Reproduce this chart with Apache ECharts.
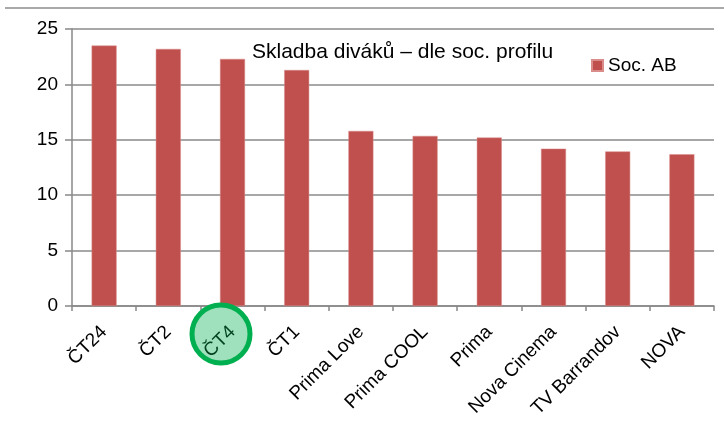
<!DOCTYPE html>
<html>
<head>
<meta charset="utf-8">
<script src="https://cdn.jsdelivr.net/npm/echarts@6/dist/echarts.min.js"></script>
<style>
  html, body { margin: 0; padding: 0; background: #fff; }
  #chart { width: 724px; height: 431px; }
</style>
</head>
<body>
<div id="chart"></div>
<script>
// channels and their share of AB viewers (%)
const channels = ['ČT24', 'ČT2', 'ČT4', 'ČT1', 'Prima Love', 'Prima COOL', 'Prima', 'Nova Cinema', 'TV Barrandov', 'NOVA'];
const socAB = [23.5, 23.2, 22.3, 21.3, 15.8, 15.35, 15.2, 14.2, 13.95, 13.7];
const yTicks = { min: 0, max: 25, interval: 5 };

const font = '"Liberation Sans", Arial, sans-serif';
const chart = echarts.init(document.getElementById('chart'));

chart.setOption({
    backgroundColor: '#fff',
    animation: false,
    title: {
        text: 'Skladba diváků – dle soc. profilu',
        left: 247,
        top: 37,
        textStyle: { fontFamily: font, fontSize: 21, fontWeight: 'normal', color: '#000' }
    },
    legend: {
        left: 586,
        top: 51,
        icon: 'rect',
        itemWidth: 11,
        itemHeight: 11,
        itemGap: 6,
        textStyle: { fontFamily: font, fontSize: 19, color: '#000' },
        data: ['Soc. AB']
    },
    grid: { left: 72, right: 10, top: 29, bottom: 125, containLabel: false },
    xAxis: {
        type: 'category',
        data: channels,
        axisLine: { lineStyle: { color: '#888', width: 1.5 } },
        axisTick: { show: true, length: 5, lineStyle: { color: '#888', width: 1.5 } },
        axisLabel: { rotate: 45, margin: 23, fontFamily: font, fontSize: 19, color: '#000', interval: 0 }
    },
    yAxis: {
        type: 'value',
        min: yTicks.min,
        max: yTicks.max,
        interval: yTicks.interval,
        axisLine: { show: true, lineStyle: { color: '#888', width: 1.5 } },
        axisTick: { show: true, length: 7, lineStyle: { color: '#888', width: 1.5 } },
        splitLine: { lineStyle: { color: '#8a8a8a', width: 1.5 } },
        axisLabel: { margin: 14, fontFamily: font, fontSize: 19, color: '#000' }
    },
    series: [{
        name: 'Soc. AB',
        type: 'bar',
        data: socAB,
        barWidth: 25,
        itemStyle: { color: '#C0504D', borderColor: '#d98c8a', borderWidth: 0.5 }
    }],
    graphic: [
        {
            type: 'line',
            shape: { x1: 5, y1: 8, x2: 724, y2: 8 },
            style: { stroke: '#8c8c8c', lineWidth: 1.5 }
        },
        {
            type: 'circle',
            shape: { cx: 221, cy: 334, r: 29 },
            style: { fill: 'rgba(0,176,80,0.38)', stroke: '#00B050', lineWidth: 5 },
            z: 100
        }
    ]
});
</script>
</body>
</html>
